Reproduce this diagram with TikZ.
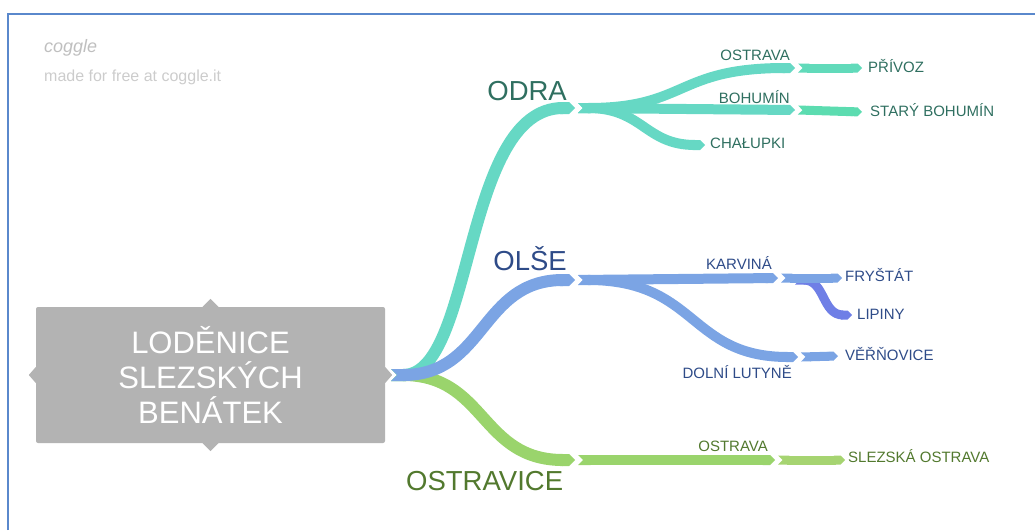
\documentclass[tikz,border=0pt]{standalone}
\usepackage{fontspec}
\setmainfont{Liberation Sans}
\usetikzlibrary{arrows.meta,positioning}

\definecolor{frameblue}{HTML}{5A88CC}
\definecolor{rootgrey}{HTML}{B3B3B3}
\definecolor{odrafill}{HTML}{66D8C4}
\definecolor{odratext}{HTML}{2F6F60}
\definecolor{olsefill}{HTML}{7BA4E4}
\definecolor{olsetext}{HTML}{2E4B88}
\definecolor{lipinyfill}{HTML}{6F7FE6}
\definecolor{ostrfill}{HTML}{9AD46C}
\definecolor{ostrlight}{HTML}{A6D471}
\definecolor{ostrtext}{HTML}{52792E}

\begin{document}
\begin{tikzpicture}[x=1pt, y=-1pt,
    rib/.style={line width=#1, {Triangle Cap[reversed]}-{Triangle Cap}},
    rib/.default=10,
    big/.style={font=\fontsize{27.5}{30}\selectfont, inner sep=0pt},
    small/.style={font=\fontsize{15}{17}\selectfont, inner sep=0pt}]
    \useasboundingbox (0,0) rectangle (1035,530);
    % frame of the canvas
    \draw[frameblue, line width=2] (7.5,530) -- (7.5,13.5) -- (1035,13.5);
    \node[anchor=base west, inner sep=0pt, text=black!25,
          font=\fontsize{18}{20}\selectfont\itshape] (logo) at (44,52) {coggle};
    \node[anchor=base west, inner sep=0pt, text=black!20,
          font=\fontsize{16}{18}\selectfont] (madefor) at (44,81) {made for free at coggle.it};

    % central node with its four little handles
    \node[fill=rootgrey, rounded corners=2, minimum width=349, minimum height=136,
          text=white, align=center, font=\fontsize{31}{35}\selectfont] (root) at (210.5,375)
          {LODĚNICE\\SLEZSKÝCH\\BENÁTEK};
    \fill[rootgrey] (root.north) ++(-8,0) -- ++(8,-8) -- ++(8,8) -- cycle;
    \fill[rootgrey] (root.south) ++(-8,0) -- ++(8,8) -- ++(8,-8) -- cycle;
    \fill[rootgrey] (root.west) ++(0,-8) -- ++(-7,8) -- ++(7,8) -- cycle;
    \fill[rootgrey] (root.east) ++(0,-8) -- ++(7,8) -- ++(-7,8) -- cycle;

    % junctions
    \coordinate (hub)  at (391,375);
    \coordinate (odra) at (575,108);
    \coordinate (olse) at (575,280);
    \coordinate (ostr) at (575,460);
    \coordinate (odra-a) at (795,68);
    \coordinate (odra-b) at (795,110);
    \coordinate (odra-c) at (705,145);
    \coordinate (olse-a) at (778,278);
    \coordinate (olse-b) at (798,357);
    \coordinate (ostr-a) at (775,460);

    % main rivers
    \draw[rib=12, ostrfill] (hub) .. controls +(95,0) and +(-95,0) .. (ostr);
    \draw[rib=12, odrafill] (hub) .. controls (475,375) and (462,108) .. (odra);
    \draw[rib=12, olsefill] (hub) .. controls +(95,0) and +(-95,0) .. (olse);

    % Odra
    \draw[rib, odrafill] ([xshift=3]odra) -- (odra-b);
    \draw[rib, odrafill] ([xshift=3]odra) .. controls +(110,0) and +(-120,0) .. (odra-a);
    \draw[rib, odrafill] ([xshift=3]odra) .. controls +(65,0) and +(-60,0) .. (odra-c);
    \draw[rib=9, odrafill!95!green] ([xshift=3]odra-a) -- (862,68);
    \draw[rib=9, odrafill!90!green] ([xshift=3]odra-b) -- (862,112);

    % Olse
    \draw[rib, olsefill] ([xshift=3]olse) .. controls +(120,0) and +(-110,0) .. (olse-b);
    \draw[rib, olsefill] ([xshift=3]olse) -- (olse-a);
    \draw[rib=9, lipinyfill] (795,280) .. controls +(30,0) and +(-30,0) .. (852,315);
    \draw[rib=9, olsefill] ([xshift=3]olse-a) -- (842,278);
    \draw[rib=9, olsefill] ([xshift=3]olse-b) -- (838,356);

    % Ostravice
    \draw[rib, ostrfill] ([xshift=3]ostr) -- (ostr-a);
    \draw[rib=9, ostrlight] ([xshift=3]ostr-a) -- (845,460);

    % labels
    \node[big, text=odratext, anchor=base east] (odralbl) at (567,100) {ODRA};
    \node[big, text=olsetext, anchor=base east] (olselbl) at (567,270) {OLŠE};
    \node[big, text=ostrtext, anchor=base west] (ostrlbl) at (406,490) {OSTRAVICE};

    \node[small, text=odratext, anchor=base east] at (790,60)  {OSTRAVA};
    \node[small, text=odratext, anchor=base east] at (790,103) {BOHUMÍN};
    \node[small, text=odratext, anchor=base west] at (710,148) {CHAŁUPKI};
    \node[small, text=odratext, anchor=base west] at (868,72)  {PŘÍVOZ};
    \node[small, text=odratext, anchor=base west] at (870,116) {STARÝ BOHUMÍN};

    \node[small, text=olsetext, anchor=base east] at (772,269) {KARVINÁ};
    \node[small, text=olsetext, anchor=base west] at (845,281) {FRYŠTÁT};
    \node[small, text=olsetext, anchor=base west] at (857,319) {LIPINY};
    \node[small, text=olsetext, anchor=base east] at (792,378) {DOLNÍ LUTYNĚ};
    \node[small, text=olsetext, anchor=base west] at (845,360) {VĚŘŇOVICE};

    \node[small, text=ostrtext, anchor=base east] at (768,451) {OSTRAVA};
    \node[small, text=ostrtext, anchor=base west] at (848,462) {SLEZSKÁ OSTRAVA};
  \end{tikzpicture}
\end{document}
